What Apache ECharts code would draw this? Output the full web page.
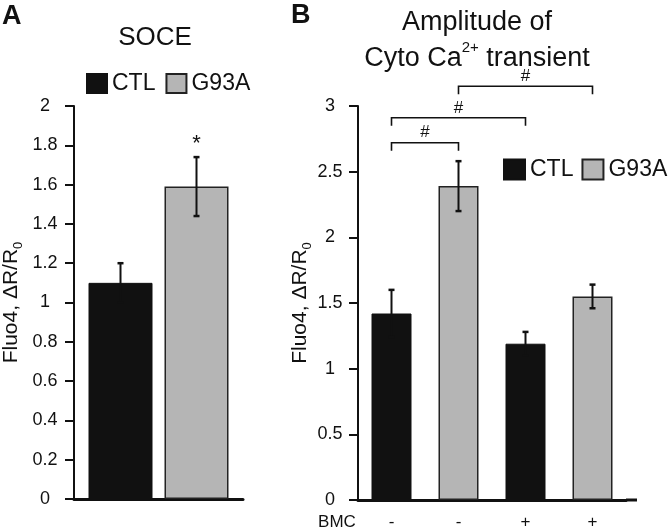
<!DOCTYPE html>
<html><head><meta charset="utf-8">
<script src="https://cdn.jsdelivr.net/npm/echarts@6/dist/echarts.min.js"></script>
<style>html,body{margin:0;padding:0;background:#fff}#c{width:669px;height:532px}</style>
</head><body><div id="c"></div>
<script>
const FONT = '"Liberation Sans", Arial, sans-serif';
const INK = '#111111';
const GRAY = '#b5b5b5';

// ---------- data ----------
const groupNames = ['CTL', 'G93A'];
// Panel A: SOCE
const soceCategories = [''];
const soceCTL = [1.10];
const soceG93A = [1.59];
const soceErrCTL = [0.10];
const soceErrG93A = [0.15];
const soceSig = ['', '*'];
// Panel B: Amplitude of cyto Ca2+ transient
const ampCategories = ['-', '-', '+', '+'];
const ampGroup = ['CTL', 'G93A', 'CTL', 'G93A'];
const ampValues = [1.42, 2.39, 1.19, 1.55];
const ampErr = [0.18, 0.19, 0.09, 0.09];
const sigFrom = [0, 0, 1];
const sigTo = [1, 2, 3];
const sigY = [2.72, 2.91, 3.15];
const sigMark = ['#', '#', '#'];
const yTicksA = {min: 0, max: 2, interval: 0.2};
const yTicksB = {min: 0, max: 3, interval: 0.5};

// ---------- helpers ----------
const barStyle = {
  CTL: {color: INK, borderColor: INK, borderWidth: 1},
  G93A: {color: GRAY, borderColor: '#222', borderWidth: 1.5}
};
const halfOffsetA = 38; // (barWidth + gap)/2 for panel A

function errRender(half) {
  return function (params, api) {
    const x = api.value(0), v = api.value(1), e = api.value(2), s = api.value(3);
    const top = api.coord([x, v + e]);
    const bot = api.coord([x, v - e]);
    const px = top[0] + s * half;
    const children = [
      {type: 'line', shape: {x1: px, y1: top[1], x2: px, y2: bot[1]}, style: {stroke: INK, lineWidth: 2}},
      {type: 'line', shape: {x1: px - 3, y1: top[1], x2: px + 3, y2: top[1]}, style: {stroke: INK, lineWidth: 2.5}},
      {type: 'line', shape: {x1: px - 3, y1: bot[1], x2: px + 3, y2: bot[1]}, style: {stroke: INK, lineWidth: 2.5}}
    ];
    const mark = params.seriesId === 'errA' ? soceSig[params.dataIndex] : '';
    if (mark) {
      children.push({type: 'text', x: px, y: top[1] - 13,
        style: {text: mark, fill: INK, font: '22px ' + FONT, textAlign: 'center', textVerticalAlign: 'middle'}});
    }
    return {type: 'group', children};
  };
}

function bracketRender(params, api) {
  const a = api.coord([api.value(0), api.value(2)]);
  const b = api.coord([api.value(1), api.value(2)]);
  const leg = 8;
  return {type: 'group', children: [
    {type: 'polyline', shape: {points: [[a[0], a[1] + leg], [a[0], a[1]], [b[0], b[1]], [b[0], b[1] + leg]]},
      style: {stroke: INK, lineWidth: 1.6, fill: null}},
    {type: 'text', x: (a[0] + b[0]) / 2, y: a[1] - 10,
      style: {text: sigMark[params.dataIndex], fill: INK, font: '17px ' + FONT, textAlign: 'center', textVerticalAlign: 'middle'}}
  ]};
}

const yName = '{a|Fluo4, \u0394R/R}{b|0}';
const yNameRich = {
  a: {fontSize: 21, fontFamily: FONT, color: INK, lineHeight: 24, verticalAlign: 'top'},
  b: {fontSize: 13, fontFamily: FONT, color: INK, lineHeight: 16, verticalAlign: 'bottom'}
};

function yAxisCfg(gridIndex, t, gap, margin) {
  return {
    type: 'value', gridIndex, min: t.min, max: t.max, interval: t.interval,
    name: yName, nameLocation: 'middle', nameGap: gap, nameRotate: 90,
    nameTextStyle: {rich: yNameRich},
    axisLine: {show: true, lineStyle: {color: INK, width: 2}},
    axisTick: {show: true, length: 9, lineStyle: {color: INK, width: 2}},
    axisLabel: {color: INK, fontSize: 18, fontFamily: FONT, align: 'center', margin: margin},
    splitLine: {show: false}
  };
}

const ampCTL = ampValues.map((v, i) => ampGroup[i] === 'CTL' ? v : '-');
const ampG93A = ampValues.map((v, i) => ampGroup[i] === 'G93A' ? v : '-');

const option = {
  backgroundColor: '#fff',
  animation: false,
  textStyle: {fontFamily: FONT},
  grid: [
    {left: 72, top: 106, width: 171, height: 393},
    {left: 358, top: 106, width: 268, height: 394}
  ],
  legend: [
    {data: groupNames, orient: 'horizontal', left: 86, top: 72, width: 300, padding: 0, icon: 'rect', itemWidth: 20, itemHeight: 19, itemGap: 10,
      textStyle: {fontSize: 23, color: INK, fontFamily: FONT}, selectedMode: false},
    {data: groupNames, orient: 'horizontal', left: 503, top: 158, width: 300, padding: 0, icon: 'rect', itemWidth: 21, itemHeight: 20, itemGap: 8,
      textStyle: {fontSize: 23, color: INK, fontFamily: FONT}, selectedMode: false}
  ],
  xAxis: [
    {type: 'category', gridIndex: 0, data: soceCategories,
      axisLine: {lineStyle: {color: INK, width: 3}}, axisTick: {show: false}, axisLabel: {show: false}},
    {type: 'category', gridIndex: 1, data: ampCategories,
      axisLine: {lineStyle: {color: INK, width: 3}}, axisTick: {show: false},
      axisLabel: {color: INK, fontSize: 17, fontFamily: FONT, margin: 22, verticalAlign: 'middle', interval: 0}}
  ],
  yAxis: [yAxisCfg(0, yTicksA, 49, 29), yAxisCfg(1, yTicksB, 43, 28)],
  graphic: [
    {type: 'text', left: 2, top: 3, style: {text: 'A', fill: INK, font: 'bold 27px ' + FONT}},
    {type: 'text', left: 291, top: 2, style: {text: 'B', fill: INK, font: 'bold 27px ' + FONT}},
    {type: 'text', x: 155, y: 38, style: {text: 'SOCE', fill: INK, font: '26px ' + FONT, textAlign: 'center', textVerticalAlign: 'middle'}},
    {type: 'text', x: 477, y: 23, style: {text: 'Amplitude of', fill: INK, font: '27px ' + FONT, textAlign: 'center', textVerticalAlign: 'middle'}},
    {type: 'text', x: 477, y: 56, style: {
      text: '{t|Cyto Ca}{s|2+}{t| transient}', textAlign: 'center', textVerticalAlign: 'middle',
      rich: {t: {fontSize: 27, fontFamily: FONT, fill: INK, lineHeight: 32, verticalAlign: 'bottom'},
             s: {fontSize: 15, fontFamily: FONT, fill: INK, lineHeight: 32, verticalAlign: 'top'}}}},
    {type: 'text', x: 337, y: 522, style: {text: 'BMC', fill: INK, font: '17px ' + FONT, textAlign: 'center', textVerticalAlign: 'middle'}},
    {type: 'line', shape: {x1: 626, y1: 500, x2: 637, y2: 500}, style: {stroke: INK, lineWidth: 3}}
  ],
  series: [
    {name: 'CTL', type: 'bar', xAxisIndex: 0, yAxisIndex: 0, data: soceCTL, barWidth: 64, barGap: '18.75%', itemStyle: barStyle.CTL},
    {name: 'G93A', type: 'bar', xAxisIndex: 0, yAxisIndex: 0, data: soceG93A, barWidth: 64, barGap: '18.75%', itemStyle: barStyle.G93A},
    {id: 'errA', type: 'custom', xAxisIndex: 0, yAxisIndex: 0, clip: false, z: 5,
      data: [[0, soceCTL[0], soceErrCTL[0], -1], [0, soceG93A[0], soceErrG93A[0], 1]],
      encode: {x: 0, y: 1}, renderItem: errRender(halfOffsetA)},
    {name: 'CTL', type: 'bar', xAxisIndex: 1, yAxisIndex: 1, data: ampCTL, barWidth: 40, barGap: '-100%', itemStyle: barStyle.CTL},
    {name: 'G93A', type: 'bar', xAxisIndex: 1, yAxisIndex: 1, data: ampG93A, barWidth: 40, barGap: '-100%', itemStyle: barStyle.G93A},
    {id: 'errB', type: 'custom', xAxisIndex: 1, yAxisIndex: 1, clip: false, z: 5,
      data: ampValues.map((v, i) => [i, v, ampErr[i], 0]),
      encode: {x: 0, y: 1}, renderItem: errRender(0)},
    {id: 'sigB', type: 'custom', xAxisIndex: 1, yAxisIndex: 1, clip: false, z: 5,
      data: sigFrom.map((f, i) => [f, sigTo[i], sigY[i]]),
      encode: {x: [0, 1], y: 2}, renderItem: bracketRender}
  ]
};

const chart = echarts.init(document.getElementById('c'));
chart.setOption(option);
</script>
</body></html>
